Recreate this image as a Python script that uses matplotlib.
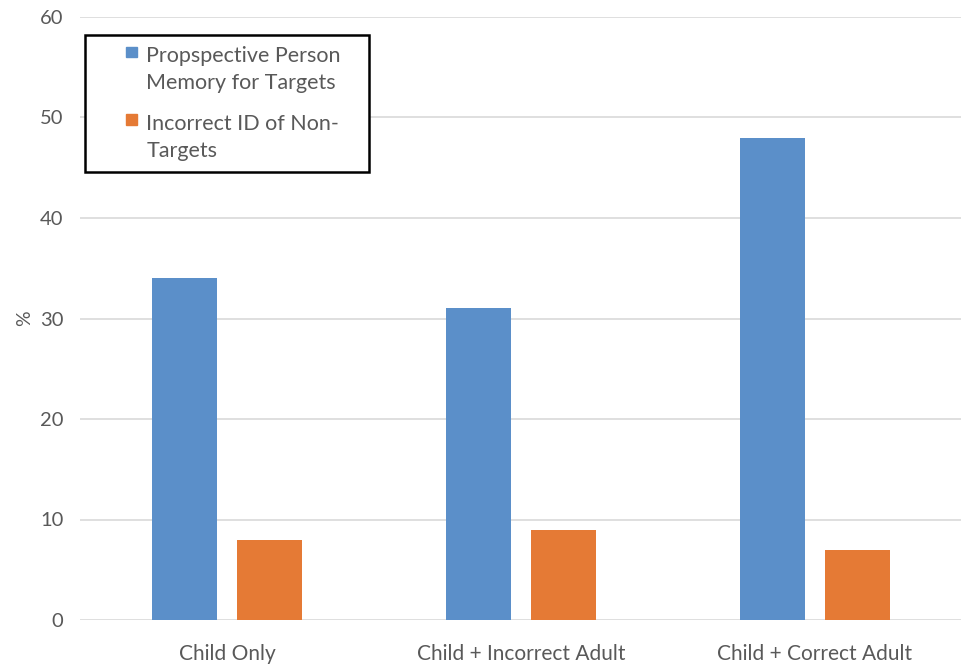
import matplotlib
matplotlib.use("Agg")
import matplotlib.pyplot as plt
import numpy as np
from matplotlib.patches import Patch, Rectangle
from matplotlib.legend_handler import HandlerPatch

categories = ["Child Only", "Child + Incorrect Adult", "Child + Correct Adult"]
series_names = ["Propspective Person\nMemory for Targets", "Incorrect ID of Non-\nTargets"]
memory_targets = [34, 31, 48]
incorrect_nontargets = [8, 9, 7]
y_ticks = [0, 10, 20, 30, 40, 50, 60]

blue = "#5b8fc9"
orange = "#e57a35"
text_grey = "#595959"
grid_grey = "#d9d9d9"

plt.rcParams["font.family"] = ["Lato", "DejaVu Sans"]

fig = plt.figure(figsize=(9.62, 6.64), dpi=100)
ax = fig.add_axes([80 / 962, 44 / 664, 882 / 962, 603 / 664])

x = np.arange(len(categories))
width = 0.221
offset = 0.143
ax.bar(x - offset, memory_targets, width, color=blue, zorder=3)
ax.bar(x + offset, incorrect_nontargets, width, color=orange, zorder=3)

ax.set_xlim(-0.5, len(categories) - 0.5)
ax.set_ylim(0, 60)
ax.set_yticks(y_ticks)
ax.set_xticks(x)
ax.set_xticklabels(categories)
ax.tick_params(axis="both", length=0, colors=text_grey)
ax.tick_params(axis="y", pad=12, labelsize=14.5)
ax.tick_params(axis="x", pad=17, labelsize=15)
ax.yaxis.grid(True, color=grid_grey, linewidth=1.2, zorder=0)
for s in ax.spines.values():
    s.set_visible(False)

ax.set_ylabel("%", color=text_grey, fontsize=14, labelpad=5)

LINESPACING = 1.46


def small_square(legend, orig_handle, xdescent, ydescent, width, height, fontsize):
    # square marker pushed to the right end of the handle slot, level with the first text line
    side = 0.5 * fontsize
    lift = 0.5 * LINESPACING * 1.2 * fontsize * 0.95
    return Rectangle((-xdescent + width - side, -ydescent + height / 2 - side / 2 + lift),
                     side, side)


handles = [Patch(color=blue), Patch(color=orange)]
leg = ax.legend(handles, series_names, loc="upper left",
                bbox_to_anchor=(5 / 882, 1 - 18 / 603),
                frameon=False, fontsize=15.5,
                labelcolor=text_grey, handlelength=1.9, handleheight=0.7,
                handletextpad=0.45, labelspacing=0.95, borderpad=0.5,
                borderaxespad=0,
                handler_map={Patch: HandlerPatch(patch_func=small_square)})
for t in leg.get_texts():
    t.set_linespacing(LINESPACING)
leg.set_zorder(5)

# legend box: white fill with a dark border, a little wider on the right than the entries need
fig.canvas.draw()
bb = leg.get_window_extent(fig.canvas.get_renderer())
(x0, y0), (x1, y1) = fig.transFigure.inverted().transform([(bb.x0, bb.y0), (bb.x1 + 17, bb.y1)])
box = Rectangle((x0, y0), x1 - x0, y1 - y0, transform=fig.transFigure,
                facecolor="white", edgecolor="black", linewidth=1.8, zorder=4)
fig.add_artist(box)
fig.add_artist(leg)

fig.savefig("out.png", dpi=100, facecolor="white")
